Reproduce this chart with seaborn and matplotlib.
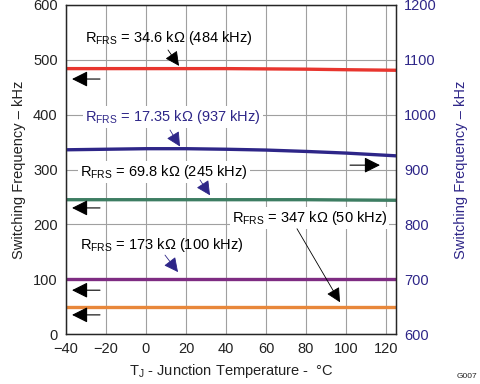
import matplotlib
matplotlib.use("Agg")
import matplotlib.pyplot as plt
import seaborn as sns

sns.set_style("white")
plt.rcParams['font.family'] = ['Liberation Sans', 'DejaVu Sans']
plt.rcParams['mathtext.fontset'] = 'custom'
plt.rcParams['mathtext.rm'] = 'Liberation Sans'
plt.rcParams['mathtext.it'] = 'Liberation Sans'

# Data
temp = [-40, -20, 0, 20, 40, 60, 80, 100, 125]
f_34k6 = [484, 484, 484, 484, 484, 483.5, 483, 482, 481]      # left axis
f_17k35 = [936, 937, 938, 938, 937, 935.5, 933, 930, 925]     # right axis
f_69k8 = [245, 245, 245, 245, 245, 245, 245, 244.5, 244]
f_173k = [100, 100, 100, 100, 100, 100, 100, 100, 100]
f_347k = [50, 50, 50, 50, 50, 50, 50, 50, 50]

x_ticks = [-40, -20, 0, 20, 40, 60, 80, 100, 120]
left_ticks = [0, 100, 200, 300, 400, 500, 600]
right_ticks = [600, 700, 800, 900, 1000, 1100, 1200]

RED = '#e8352e'
BLUE = '#2e2688'
GREEN = '#3d7d62'
PURPLE = '#7e2c82'
ORANGE = '#e8873a'
FS = 10.5

fig = plt.figure(figsize=(4.8, 3.84), dpi=100)
ax = fig.add_axes([0.1375, 0.130, 0.6875, 0.857])

sns.lineplot(x=temp, y=f_34k6, ax=ax, color=RED, lw=2.4)
sns.lineplot(x=temp, y=f_69k8, ax=ax, color=GREEN, lw=2.4)
sns.lineplot(x=temp, y=f_173k, ax=ax, color=PURPLE, lw=2.4)
sns.lineplot(x=temp, y=f_347k, ax=ax, color=ORANGE, lw=2.4)

ax.set_xlim(-40, 125)
ax.set_ylim(0, 600)
ax.set_xticks(x_ticks)
ax.set_yticks(left_ticks)
ax.set_xticklabels([str(t).replace('-', '\u2212') for t in x_ticks])
ax.grid(True, color='#a0a0a0', lw=0.8)
ax.tick_params(length=0, labelsize=FS, colors='#222222', pad=6)
for s in ax.spines.values():
    s.set_color('#222222')
    s.set_linewidth(1.0)
ax.set_xlabel(r'T$_\mathrm{J}$ - Junction Temperature -  °C', fontsize=FS, color='#222222', labelpad=4)
ax.set_ylabel('Switching Frequency \u2013 kHz', fontsize=FS, color='#222222', labelpad=5)

ax2 = ax.twinx()
sns.lineplot(x=temp, y=f_17k35, ax=ax2, color=BLUE, lw=2.4)
ax2.set_ylim(600, 1200)
ax2.set_yticks(right_ticks)
ax2.tick_params(length=0, labelsize=FS, colors=BLUE, pad=6)
ax2.set_ylabel('Switching Frequency \u2013 kHz', fontsize=FS, color=BLUE, labelpad=12)
ax2.grid(False)

box = dict(facecolor='white', edgecolor='none', pad=1.5)

def label(txt, xy, tail, tip, color='black', acolor='black', bbox=None):
    ax.text(xy[0], xy[1], txt, fontsize=FS, color=color, ha='left', va='center',
            bbox=bbox, zorder=5)
    ax.annotate('', xy=tip, xytext=tail,
                arrowprops=dict(arrowstyle='-|>', color=acolor, lw=0.6,
                                mutation_scale=22, shrinkA=0, shrinkB=0),
                zorder=6)

label(r'R$_\mathrm{FRS}$ = 34.6 kΩ (484 kHz)', (-30.5, 540), (11, 518), (16.5, 489))
label(r'R$_\mathrm{FRS}$ = 17.35 kΩ (937 kHz)', (-30.5, 396), (12, 372), (17, 342),
      color=BLUE, acolor=BLUE, bbox=box)
label(r'R$_\mathrm{FRS}$ = 69.8 kΩ (245 kHz)', (-33, 296), (27, 281), (32, 253),
      acolor=BLUE, bbox=box)
label(r'R$_\mathrm{FRS}$ = 173 kΩ (100 kHz)', (-33, 162), (9.5, 144), (16, 113),
      acolor=BLUE)
label(r'R$_\mathrm{FRS}$ = 347 kΩ (50 kHz)', (43, 212), (75.5, 192), (97, 58),
      bbox=box)

# axis-direction arrows
arrow = dict(arrowstyle='-|>', color='black', lw=0.8, mutation_scale=24, shrinkA=0, shrinkB=0)
for yv in [465, 230, 80, 35]:
    ax.annotate('', xy=(-37, yv), xytext=(-23, yv), arrowprops=arrow)
ax.annotate('', xy=(117, 308), xytext=(102, 308), arrowprops=arrow, zorder=6)

fig.text(0.995, 0.01, 'G007', fontsize=6, ha='right', va='bottom', color='#222222')

fig.savefig('out.png', dpi=100)
